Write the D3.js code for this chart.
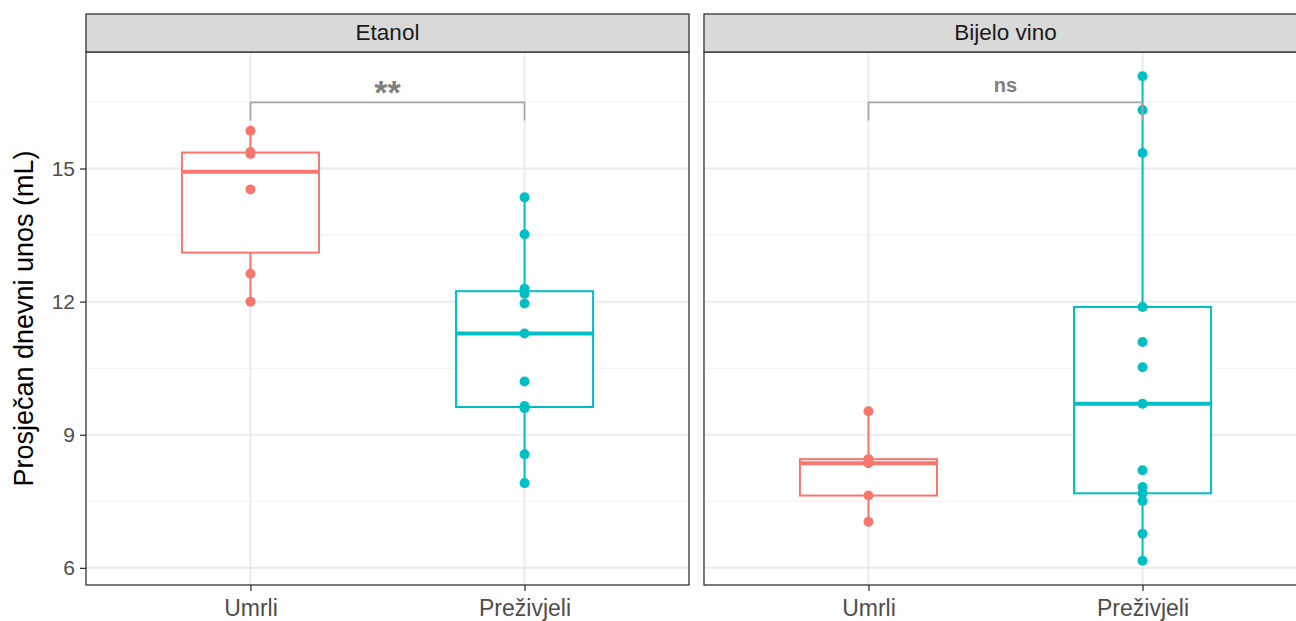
<!DOCTYPE html>
<html>
<head>
<meta charset="utf-8">
<script src="https://cdn.jsdelivr.net/npm/d3@7"></script>
<style>
  html, body { margin: 0; padding: 0; background: #fff; }
  svg { display: block; }
</style>
</head>
<body>
<svg id="chart" width="1296" height="621"></svg>
<script>
// ---- data ----
const facets = ["Etanol", "Bijelo vino"];
const groups = ["Umrli", "Preživjeli"];
const etanolUmrli = [15.85, 15.37, 15.33, 14.53, 12.63, 12.0];
const etanolPrezivjeli = [14.35, 13.52, 12.29, 12.18, 11.96, 11.28, 10.2, 9.65, 9.6, 8.56, 7.91];
const vinoUmrli = [9.53, 8.45, 8.36, 7.63, 7.04];
const vinoPrezivjeli = [17.08, 16.32, 15.35, 11.88, 11.09, 10.52, 9.7, 8.2, 7.82, 7.68, 7.51, 6.77, 6.16];
const yTicks = [6, 9, 12, 15];
const yMinorTicks = [7.5, 10.5, 13.5, 16.5];
const significance = ["**", "ns"];
const bracketValue = 16.49;
const bracketTip = 16.08;
const yTitle = "Prosječan dnevni unos (mL)";

const facetData = [
  { name: facets[0], series: [etanolUmrli, etanolPrezivjeli], label: significance[0] },
  { name: facets[1], series: [vinoUmrli, vinoPrezivjeli], label: significance[1] }
];
const colors = ["#F8766D", "#00BFC4"];

// ---- layout ----
const svg = d3.select("#chart");
const panelW = 603;
const panelLefts = [86, 704];
const stripTop = 14, stripBottom = 52, panelBottom = 585;

const allVals = [].concat(etanolUmrli, etanolPrezivjeli, vinoUmrli, vinoPrezivjeli);
const vmin = d3.min(allVals), vmax = d3.max(allVals);
const pad = (vmax - vmin) * 0.05;
const y = d3.scaleLinear().domain([vmin - pad, vmax + pad]).range([panelBottom, stripBottom]);
const x = d3.scalePoint().domain(groups).range([0, panelW]).padding(0.6);
const boxW = x.step() * 0.5;

function stats(arr) {
  const s = arr.slice().sort(d3.ascending);
  const q1 = d3.quantile(s, 0.25), med = d3.quantile(s, 0.5), q3 = d3.quantile(s, 0.75);
  const iqr = q3 - q1;
  const lo = d3.min(s.filter(v => v >= q1 - 1.5 * iqr));
  const hi = d3.max(s.filter(v => v <= q3 + 1.5 * iqr));
  return { q1, med, q3, lo, hi };
}

const defs = svg.append("defs");

facetData.forEach((f, i) => {
  const left = panelLefts[i];
  const g = svg.append("g").attr("transform", `translate(${left},0)`);
  defs.append("clipPath").attr("id", "clip" + i)
    .append("rect").attr("x", 0).attr("y", stripBottom).attr("width", panelW).attr("height", panelBottom - stripBottom);

  const pg = g.append("g").attr("clip-path", `url(#clip${i})`);
  // minor grid
  pg.selectAll("line.minor").data(yMinorTicks).join("line")
    .attr("x1", 0).attr("x2", panelW).attr("y1", d => y(d)).attr("y2", d => y(d))
    .attr("stroke", "#f2f2f2").attr("stroke-width", 1.1);
  // major grid
  pg.selectAll("line.major").data(yTicks).join("line")
    .attr("x1", 0).attr("x2", panelW).attr("y1", d => y(d)).attr("y2", d => y(d))
    .attr("stroke", "#ebebeb").attr("stroke-width", 2);
  pg.selectAll("line.vmajor").data(groups).join("line")
    .attr("x1", d => x(d)).attr("x2", d => x(d)).attr("y1", stripBottom).attr("y2", panelBottom)
    .attr("stroke", "#ebebeb").attr("stroke-width", 2);

  // boxes
  f.series.forEach((vals, gi) => {
    const st = stats(vals);
    const cx = x(groups[gi]);
    const col = colors[gi];
    pg.append("line").attr("x1", cx).attr("x2", cx).attr("y1", y(st.hi)).attr("y2", y(st.q3))
      .attr("stroke", col).attr("stroke-width", 2);
    pg.append("line").attr("x1", cx).attr("x2", cx).attr("y1", y(st.q1)).attr("y2", y(st.lo))
      .attr("stroke", col).attr("stroke-width", 2);
    pg.append("rect").attr("x", cx - boxW / 2).attr("width", boxW)
      .attr("y", y(st.q3)).attr("height", y(st.q1) - y(st.q3))
      .attr("fill", "#fff").attr("stroke", col).attr("stroke-width", 2);
    pg.append("line").attr("x1", cx - boxW / 2).attr("x2", cx + boxW / 2)
      .attr("y1", y(st.med)).attr("y2", y(st.med))
      .attr("stroke", col).attr("stroke-width", 4);
    pg.selectAll(null).data(vals).join("circle")
      .attr("cx", cx).attr("cy", d => y(d)).attr("r", 5).attr("fill", col);
  });

  // significance bracket
  const x1 = x(groups[0]), x2 = x(groups[1]);
  pg.append("path")
    .attr("d", `M${x1},${y(bracketTip)}V${y(bracketValue)}H${x2}V${y(bracketTip)}`)
    .attr("fill", "none").attr("stroke", "#a6a6a6").attr("stroke-width", 1.6);
  const isStar = f.label.indexOf("*") >= 0;
  pg.append("text")
    .attr("x", (x1 + x2) / 2)
    .attr("y", isStar ? y(bracketValue) + 2 : y(bracketValue) - 10)
    .attr("text-anchor", "middle")
    .attr("font-family", "Liberation Sans, Arial, sans-serif")
    .attr("font-weight", "bold")
    .attr("font-size", isStar ? 34 : 20)
    .attr("fill", "#808080")
    .text(f.label);

  // panel border
  g.append("rect").attr("x", 0).attr("y", stripBottom).attr("width", panelW).attr("height", panelBottom - stripBottom)
    .attr("fill", "none").attr("stroke", "#333").attr("stroke-width", 1.3);
  // strip
  g.append("rect").attr("x", 0).attr("y", stripTop).attr("width", panelW).attr("height", stripBottom - stripTop)
    .attr("fill", "#d9d9d9").attr("stroke", "#333").attr("stroke-width", 1.3);
  g.append("text").attr("x", panelW / 2).attr("y", 40).attr("text-anchor", "middle")
    .attr("font-family", "Liberation Sans, Arial, sans-serif").attr("font-size", 22.5)
    .attr("fill", "#1a1a1a").text(f.name);

  // x axis
  const xa = g.append("g").attr("transform", `translate(0,${panelBottom})`)
    .call(d3.axisBottom(x).tickSizeOuter(0).tickSize(6).tickPadding(9));
  xa.select(".domain").remove();
  xa.selectAll("line").attr("stroke", "#333").attr("stroke-width", 1.3);
  xa.selectAll("text").attr("font-family", "Liberation Sans, Arial, sans-serif")
    .attr("font-size", 23).attr("fill", "#4d4d4d");

  if (i === 0) {
    const ya = g.append("g").call(d3.axisLeft(y).tickValues(yTicks).tickSizeOuter(0).tickSize(6).tickPadding(5));
    ya.select(".domain").remove();
    ya.selectAll("line").attr("stroke", "#333").attr("stroke-width", 1.3);
    ya.selectAll("text").attr("font-family", "Liberation Sans, Arial, sans-serif")
      .attr("font-size", 21).attr("fill", "#4d4d4d");
  }
});

svg.append("text")
  .attr("transform", `translate(33,${(stripBottom + panelBottom) / 2}) rotate(-90)`)
  .attr("text-anchor", "middle")
  .attr("font-family", "Liberation Sans, Arial, sans-serif")
  .attr("font-size", 27)
  .attr("fill", "#000")
  .text(yTitle);
</script>
</body>
</html>
